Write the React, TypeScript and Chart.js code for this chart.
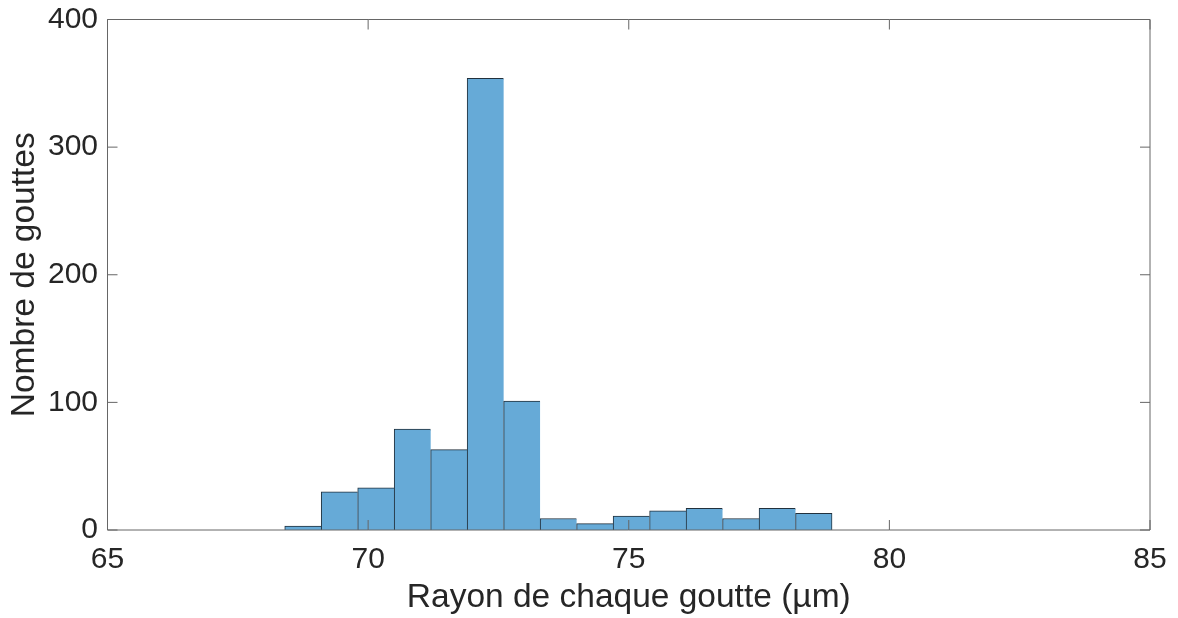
import React, { useEffect, useRef } from "react";
import { Chart, registerables } from "chart.js";

Chart.register(...registerables);

// Histogram bin centres (µm), bin width 0.7
const binCenters = [68.75, 69.45, 70.15, 70.85, 71.55, 72.25, 72.95, 73.65, 74.35, 75.05, 75.75, 76.45, 77.15, 77.85, 78.55];
const counts = [3, 30, 33, 79, 63, 354, 101, 9, 5, 11, 15, 17, 9, 17, 13];
const xTicks = [65, 70, 75, 80, 85];
const yTicks = [0, 100, 200, 300, 400];
const xTitle = "Rayon de chaque goutte (µm)";
const yTitle = "Nombre de gouttes";

const FONT = "'Liberation Sans', Arial, Helvetica, sans-serif";
const TEXT = "#262626";

const boxPlugin = {
  id: "matlabBox",
  afterDatasetsDraw(chart: any) {
    const { ctx, chartArea } = chart;
    const { left, right, top, bottom } = chartArea;
    const xs = chart.scales.x;
    const ys = chart.scales.y;
    const tl = 10;
    ctx.save();
    ctx.strokeStyle = "#666666";
    ctx.lineWidth = 1;
    ctx.beginPath();
    ctx.rect(left, top, right - left, bottom - top);
    ctx.stroke();
    ctx.beginPath();
    xTicks.forEach((v) => {
      const px = xs.getPixelForValue(v);
      ctx.moveTo(px, bottom);
      ctx.lineTo(px, bottom - tl);
      ctx.moveTo(px, top);
      ctx.lineTo(px, top + tl);
    });
    yTicks.forEach((v) => {
      const py = ys.getPixelForValue(v);
      ctx.moveTo(left, py);
      ctx.lineTo(left + tl, py);
      ctx.moveTo(right, py);
      ctx.lineTo(right - tl, py);
    });
    ctx.stroke();
    ctx.restore();
  },
};

const zeroPad = (s: any) => {
  s.paddingTop = 0;
  s.paddingBottom = 0;
  s.paddingLeft = 0;
  s.paddingRight = 0;
};

export default function App() {
  const ref = useRef<HTMLCanvasElement | null>(null);
  useEffect(() => {
    document.body.style.margin = "0";
    const last = counts.length - 1;
    const chart = new Chart(ref.current as HTMLCanvasElement, {
      type: "bar",
      data: {
        datasets: [
          {
            data: binCenters.map((x, i) => ({ x, y: counts[i] })),
            backgroundColor: "rgb(102,170,215)",
            borderColor: "#22313d",
            borderSkipped: false,
            borderWidth: (c: any) => ({ top: 1, left: 1, bottom: 0, right: c.dataIndex === last ? 1 : 0 }),
            categoryPercentage: 1,
            barPercentage: 1,
            grouped: false,
          } as any,
        ],
      },
      options: {
        animation: false,
        responsive: false,
        devicePixelRatio: 1,
        layout: { padding: { top: 19.5, right: 28, bottom: 0, left: 0 } },
        plugins: { legend: { display: false }, tooltip: { enabled: false } },
        scales: {
          x: {
            type: "linear",
            min: 65,
            max: 85,
            offset: false,
            afterBuildTicks: (s: any) => {
              s.ticks = xTicks.map((v) => ({ value: v }));
            },
            afterFit: (s: any) => {
              s.height = 88;
              zeroPad(s);
            },
            grid: { display: false, drawTicks: false },
            border: { display: false },
            ticks: {
              padding: 11.6,
              color: TEXT,
              font: { family: FONT, size: 30 },
              maxRotation: 0,
              autoSkip: false,
            },
            title: {
              display: true,
              text: xTitle,
              color: TEXT,
              font: { family: FONT, size: 33.5 },
              padding: { top: 0, bottom: 0 },
            },
          },
          y: {
            type: "linear",
            min: 0,
            max: 400,
            afterBuildTicks: (s: any) => {
              s.ticks = yTicks.map((v) => ({ value: v }));
            },
            afterFit: (s: any) => {
              s.width = 107.5;
              zeroPad(s);
            },
            grid: { display: false, drawTicks: false },
            border: { display: false },
            ticks: {
              padding: 9.5,
              color: TEXT,
              font: { family: FONT, size: 30 },
              autoSkip: false,
            },
            title: {
              display: true,
              text: yTitle,
              color: TEXT,
              font: { family: FONT, size: 33.5 },
              padding: { top: 5, bottom: 0 },
            },
          },
        },
      },
      plugins: [boxPlugin],
    } as any);
    return () => chart.destroy();
  }, []);
  return (
    <div style={{ position: "fixed", left: 0, top: 0, width: 1178, height: 618, background: "#fff" }}>
      <canvas ref={ref} width={1178} height={618} />
    </div>
  );
}
